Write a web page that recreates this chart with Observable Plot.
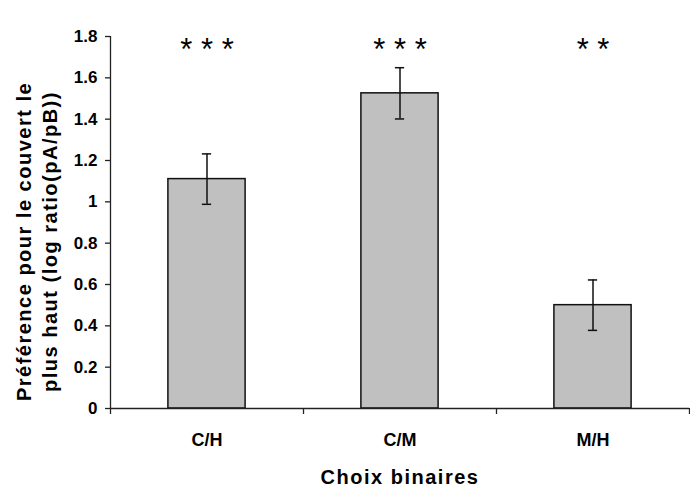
<!DOCTYPE html>
<html>
<head>
<meta charset="utf-8">
<script src="https://cdn.jsdelivr.net/npm/d3@7"></script>
<script src="https://cdn.jsdelivr.net/npm/@observablehq/plot@0.6"></script>
<style>
  body { margin: 0; background: #fff; }
</style>
</head>
<body>
<div id="chart"></div>
<script>
const categories = ["C/H", "C/M", "M/H"];
const means = [1.11, 1.525, 0.50];
const errors = [0.122, 0.124, 0.122];
const stars = ["***", "***", "**"];
const yTicks = [0, 0.2, 0.4, 0.6, 0.8, 1, 1.2, 1.4, 1.6, 1.8];
const yTitle = "Préférence pour le couvert le\nplus haut (log ratio(pA/pB))";
const xTitle = "Choix binaires";

const data = categories.map((c, i) => ({
  i, cat: c, mean: means[i], lo: means[i] - errors[i], hi: means[i] + errors[i],
  stars: stars[i].split("").join(" ")
}));

const chart = Plot.plot({
  width: 690,
  height: 500,
  marginLeft: 110,
  marginRight: 1,
  marginTop: 36,
  marginBottom: 92,
  style: { fontFamily: "'Liberation Sans', Arial, sans-serif", fontWeight: "bold", fontSize: "17px", color: "#000", background: "#fff", overflow: "visible" },
  x: { type: "linear", domain: [0, categories.length], axis: null },
  y: { domain: [0, 1.8], axis: null },
  marks: [
    Plot.rectY(data, { x1: d => d.i + 0.3, x2: d => d.i + 0.7, y1: 0, y2: "mean", fill: "#c0c0c0", stroke: "#111", strokeWidth: 1.5 }),
    Plot.ruleX(data, { x: d => d.i + 0.5, y1: "lo", y2: "hi", stroke: "#111", strokeWidth: 1.5 }),
    Plot.ruleY(data, { y: "hi", x1: d => d.i + 0.476, x2: d => d.i + 0.524, stroke: "#111", strokeWidth: 1.5 }),
    Plot.ruleY(data, { y: "lo", x1: d => d.i + 0.476, x2: d => d.i + 0.524, stroke: "#111", strokeWidth: 1.5 }),
    Plot.ruleX([0], { stroke: "#222", strokeWidth: 1.3 }),
    Plot.ruleY([0], { stroke: "#222", strokeWidth: 1.3 }),
    Plot.axisY({ ticks: yTicks, tickSize: 5, tickPadding: 8, tickFormat: d => String(d), fontSize: 17, fontWeight: "bold", stroke: "#222", strokeWidth: 1.3, label: null }),
    Plot.axisX({ ticks: d3.range(categories.length + 1), tickSize: 6, tickFormat: () => "", stroke: "#222", strokeWidth: 1.3, label: null }),
    Plot.axisX({ ticks: categories.map((c, i) => i + 0.5), tickSize: 0, tickPadding: 25, tickFormat: v => categories[Math.floor(v)], fontSize: 18, fontWeight: "bold", label: null }),
    Plot.text(data, { x: d => d.i + 0.5, frameAnchor: "top", text: "stars", fontSize: 31, fontWeight: "normal", lineAnchor: "middle", dy: 14, fill: "#000" }),
    Plot.text([yTitle], { frameAnchor: "left", dx: -75, dy: 19, rotate: -90, text: d => d, textAnchor: "middle", lineAnchor: "middle", lineHeight: 1.3, fontSize: 20, fontWeight: "bold" }),
    Plot.text([xTitle], { frameAnchor: "bottom", dy: 69, text: d => d, textAnchor: "middle", lineAnchor: "middle", fontSize: 20, fontWeight: "bold" })
  ]
});
document.getElementById("chart").appendChild(chart);
// widen the letter spacing of the two axis titles, as in the reference
d3.select(chart).selectAll("text").each(function() {
  const t = this.textContent;
  if (t.startsWith("Préférence") || t === xTitle) this.style.letterSpacing = "1.5px";
});
</script>
</body>
</html>
